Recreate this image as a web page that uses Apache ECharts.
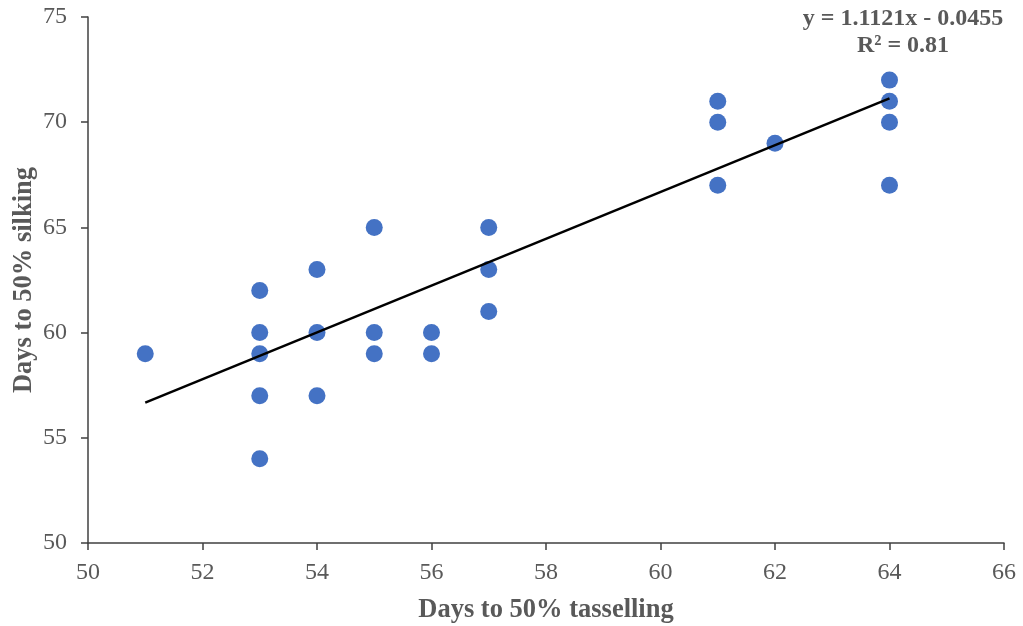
<!DOCTYPE html>
<html>
<head>
<meta charset="utf-8">
<script src="https://cdn.jsdelivr.net/npm/echarts@6/dist/echarts.min.js"></script>
<style>html,body{margin:0;padding:0;background:#fff}#c{width:1023px;height:626px}</style>
</head>
<body>
<div id="c"></div>
<script>
// Data
const tasselling = [51, 53, 53, 53, 53, 53, 54, 54, 54, 55, 55, 55, 56, 56, 57, 57, 57, 61, 61, 61, 62, 64, 64, 64, 64];
const silking    = [59, 62, 60, 59, 57, 54, 63, 60, 57, 65, 60, 59, 60, 59, 65, 63, 61, 71, 70, 67, 69, 72, 71, 70, 67];
const trendSlope = 1.1121;
const trendIntercept = -0.0455;
const equationText = 'y = 1.1121x - 0.0455';
const r2Text = 'R² = 0.81';
const xTitle = 'Days to 50% tasselling';
const yTitle = 'Days to 50% silking';

const points = tasselling.map((x, i) => [x, silking[i]]);
const xMin = Math.min(...tasselling), xMax = Math.max(...tasselling);
const trend = [[xMin, trendSlope * xMin + trendIntercept], [xMax, trendSlope * xMax + trendIntercept]];

const chart = echarts.init(document.getElementById('c'), null, {renderer: 'canvas'});
const font = '"Liberation Serif", "Times New Roman", serif';
chart.setOption({
  animation: false,
  backgroundColor: '#fff',
  grid: {left: 88, top: 17, right: 19, bottom: 83, containLabel: false, outerBoundsMode: 'none'},
  xAxis: {
    type: 'value', min: 50, max: 66, interval: 2,
    name: xTitle, nameLocation: 'middle', nameGap: 54, nameMoveOverlap: false,
    nameTextStyle: {fontFamily: font, fontSize: 26.5, fontWeight: 'bold', color: '#595959'},
    axisLine: {show: true, lineStyle: {color: '#404040', width: 1.5}},
    axisTick: {show: true, inside: false, length: 7, lineStyle: {color: '#404040', width: 1.5}},
    axisLabel: {fontFamily: font, fontSize: 24, color: '#595959', margin: 18},
    splitLine: {show: false}
  },
  yAxis: {
    type: 'value', min: 50, max: 75, interval: 5,
    name: yTitle, nameLocation: 'middle', nameGap: 50, nameMoveOverlap: false,
    nameTextStyle: {fontFamily: font, fontSize: 26.5, fontWeight: 'bold', color: '#595959'},
    axisLine: {show: true, lineStyle: {color: '#404040', width: 1.5}},
    axisTick: {show: true, inside: false, length: 7, lineStyle: {color: '#404040', width: 1.5}},
    axisLabel: {fontFamily: font, fontSize: 24, color: '#595959', margin: 21},
    splitLine: {show: false}
  },
  graphic: [{
    type: 'text', x: 903, y: 5,
    style: {
      text: equationText + '\n' + r2Text,
      font: 'bold 24px ' + font, fill: '#595959',
      textAlign: 'center', lineHeight: 27
    }
  }],
  series: [
    {
      type: 'scatter', data: points, symbolSize: 17,
      itemStyle: {color: '#4472C4', opacity: 1}, z: 2
    },
    {
      type: 'line', data: trend, showSymbol: false, symbol: 'none',
      lineStyle: {color: '#000', width: 2.5}, z: 3
    }
  ]
});
</script>
</body>
</html>
